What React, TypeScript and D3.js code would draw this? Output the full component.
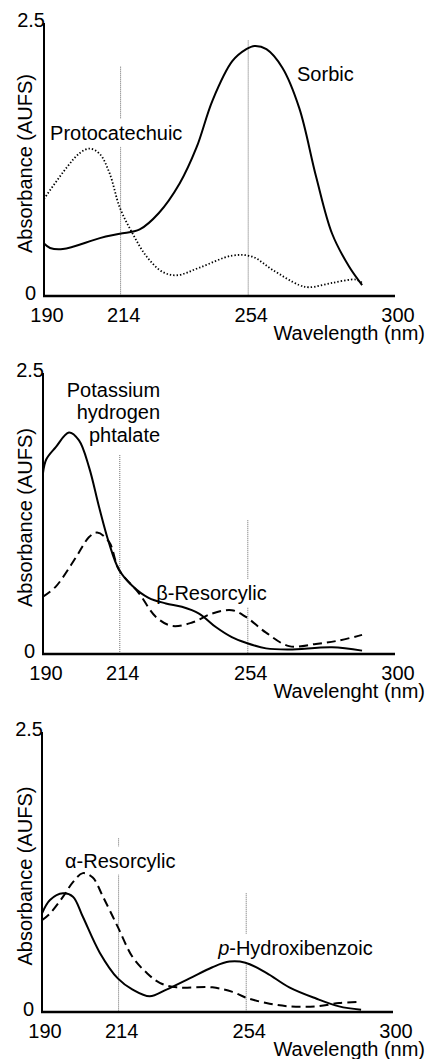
import React, { useEffect, useRef } from 'react';
import * as d3 from 'd3';

// ---------- data ----------
const xTicks = [190, 214, 254, 300];
const yTicks = [0, 2.5];

// Panel 1
const sorbicNm = [190, 191.9, 195.9, 207.5, 213.75, 220, 226, 232.5, 237.8, 242.8, 249, 253.4, 256, 259.7, 264.7, 270, 275.3, 280.3, 285.6, 289.7];
const sorbicAbs = [0.48, 0.44, 0.43, 0.53, 0.57, 0.61, 0.76, 1.03, 1.36, 1.79, 2.15, 2.26, 2.29, 2.26, 2.09, 1.72, 1.09, 0.57, 0.27, 0.10];
const protoNm = [190, 197.2, 201.25, 204.4, 207.5, 210.6, 213.75, 217.8, 222.2, 227.2, 231.6, 238.75, 249, 255.3, 261.6, 270, 273.1, 280.3, 287.8, 289.7];
const protoAbs = [0.89, 1.18, 1.31, 1.35, 1.30, 1.12, 0.81, 0.57, 0.36, 0.22, 0.19, 0.26, 0.37, 0.36, 0.24, 0.10, 0.08, 0.12, 0.15, 0.12];

// Panel 2
const khpNm = [190, 191, 194, 198.1, 201.25, 204.4, 207.5, 210.6, 213.75, 217.8, 223, 228.4, 233.4, 238.75, 244, 249, 253.4, 259.7, 266.9, 280.3, 289.7];
const khpAbs = [1.61, 1.73, 1.84, 1.97, 1.90, 1.66, 1.31, 0.99, 0.75, 0.61, 0.50, 0.45, 0.42, 0.36, 0.24, 0.15, 0.10, 0.05, 0.04, 0.06, 0.03];
const betaNm = [190, 194, 200.3, 204.4, 206.9, 210.6, 213.75, 220, 225.3, 230.3, 236.6, 242.8, 249, 253.4, 259.7, 266.9, 275.3, 282.5, 289.7];
const betaAbs = [0.51, 0.60, 0.86, 1.04, 1.08, 1.00, 0.75, 0.54, 0.33, 0.25, 0.28, 0.36, 0.39, 0.33, 0.19, 0.07, 0.09, 0.12, 0.17];

// Panel 3
const phbNm = [190, 192.5, 196.6, 199.7, 202.8, 208.1, 213.75, 218.4, 223.75, 229, 236.25, 243.4, 248.75, 253.75, 260.3, 267.5, 275.9, 283.1, 290];
const phbAbs = [0.88, 1.0, 1.06, 1.03, 0.85, 0.53, 0.30, 0.20, 0.14, 0.20, 0.30, 0.40, 0.45, 0.44, 0.35, 0.22, 0.12, 0.05, 0.02];
const alphaNm = [190, 192.5, 196.6, 199.7, 202.8, 205.9, 209.1, 213.75, 218.4, 222.8, 226.9, 232.2, 243.4, 249.7, 253.75, 260.3, 267.5, 275.9, 283.1, 289.4];
const alphaAbs = [0.82, 0.88, 1.03, 1.16, 1.24, 1.20, 1.03, 0.76, 0.49, 0.35, 0.26, 0.22, 0.22, 0.18, 0.13, 0.08, 0.05, 0.05, 0.08, 0.09];

type Style = 'solid' | 'dotted' | 'dashed';
type Series = { nm: number[]; abs: number[]; style: Style };
type Label = { lines: string[]; nm: number; abs: number; anchor: string; italicFirst?: boolean };
type Panel = {
  left: number; right: number; top: number; bottom: number;
  grid: { nm: number; top: number }[];
  series: Series[];
  labels: Label[];
  xTitle: string;
};

const panels: Panel[] = [
  {
    left: 44, right: 395, top: 23, bottom: 296,
    grid: [{ nm: 214, top: 2.1 }, { nm: 254, top: 2.34 }],
    series: [
      { nm: protoNm, abs: protoAbs, style: 'dotted' },
      { nm: sorbicNm, abs: sorbicAbs, style: 'solid' },
    ],
    labels: [
      { lines: ['Protocatechuic'], nm: 191.9, abs: 1.43, anchor: 'start' },
      { lines: ['Sorbic'], nm: 269.3, abs: 1.97, anchor: 'start' },
    ],
    xTitle: 'Wavelength (nm)',
  },
  {
    left: 43, right: 395, top: 373, bottom: 654,
    grid: [{ nm: 214, top: 1.77 }, { nm: 254, top: 1.19 }],
    series: [
      { nm: betaNm, abs: betaAbs, style: 'dashed' },
      { nm: khpNm, abs: khpAbs, style: 'solid' },
    ],
    labels: [
      { lines: ['Potassium', 'hydrogen', 'phtalate'], nm: 226.6, abs: 2.29, anchor: 'end' },
      { lines: ['\u03B2-Resorcylic'], nm: 225.4, abs: 0.48, anchor: 'start' },
    ],
    xTitle: 'Wavelenght (nm)',
  },
  {
    left: 42, right: 393, top: 732, bottom: 1012,
    grid: [{ nm: 214, top: 1.55 }, { nm: 254, top: 1.06 }],
    series: [
      { nm: alphaNm, abs: alphaAbs, style: 'dashed' },
      { nm: phbNm, abs: phbAbs, style: 'solid' },
    ],
    labels: [
      { lines: ['\u03B1-Resorcylic'], nm: 197.2, abs: 1.29, anchor: 'start' },
      { lines: ['p', '-Hydroxibenzoic'], nm: 245.2, abs: 0.51, anchor: 'start', italicFirst: true },
    ],
    xTitle: 'Wavelength (nm)',
  },
];

const FONT = "'Liberation Sans', Arial, Helvetica, sans-serif";

export default function App() {
  const ref = useRef<SVGSVGElement | null>(null);

  useEffect(() => {
    document.body.style.margin = '0';
    const svg = d3.select(ref.current);
    svg.selectAll('*').remove();

    panels.forEach((p) => {
      const g = svg.append('g');
      const x = d3.scaleLinear().domain([190, 300]).range([p.left, p.right]);
      const y = d3.scaleLinear().domain([0, 2.5]).range([p.bottom, p.top]);

      // gridlines
      p.grid.forEach((gl) => {
        g.append('line')
          .attr('x1', x(gl.nm)).attr('x2', x(gl.nm))
          .attr('y1', y(gl.top)).attr('y2', y(0))
          .attr('stroke', '#6a6a6a').attr('stroke-width', 1)
          .attr('stroke-dasharray', '1,1');
      });

      // labels with white background
      p.labels.forEach((lb) => {
        const lg = g.append('g');
        const rect = lg.append('rect').attr('fill', '#fff');
        const t = lg.append('text')
          .attr('font-family', FONT).attr('font-size', 20).attr('fill', '#000')
          .attr('text-anchor', lb.anchor);
        if (lb.italicFirst) {
          t.attr('x', x(lb.nm)).attr('y', y(lb.abs));
          t.append('tspan').attr('font-style', 'italic').text(lb.lines[0]);
          t.append('tspan').text(lb.lines[1]);
        } else {
          lb.lines.forEach((ln, i) => {
            t.append('tspan').attr('x', x(lb.nm)).attr('y', y(lb.abs) + i * 22.5).text(ln);
          });
        }
        const node = t.node() as SVGTextElement;
        const bb = node.getBBox();
        rect.attr('x', bb.x - 3).attr('y', bb.y - 3)
          .attr('width', bb.width + 6).attr('height', bb.height + 6);
      });

      // curves
      p.series.forEach((s) => {
        const pts: [number, number][] = s.nm.map((n, i) => [n, s.abs[i]]);
        const line = d3.line<[number, number]>()
          .x((d) => x(d[0])).y((d) => y(d[1]))
          .curve(d3.curveCatmullRom.alpha(0.5));
        const path = g.append('path').attr('d', line(pts) as string)
          .attr('fill', 'none').attr('stroke', '#000')
          .attr('stroke-linejoin', 'round');
        if (s.style === 'solid') path.attr('stroke-width', 2);
        if (s.style === 'dotted') path.attr('stroke-width', 1.8).attr('stroke-dasharray', '1.4,2');
        if (s.style === 'dashed') path.attr('stroke-width', 2).attr('stroke-dasharray', '9,5');
      });

      // axes
      g.append('line').attr('x1', p.left).attr('x2', p.left)
        .attr('y1', p.top).attr('y2', p.bottom + 1)
        .attr('stroke', '#000').attr('stroke-width', 2);
      g.append('line').attr('x1', p.left - 1).attr('x2', p.right)
        .attr('y1', p.bottom).attr('y2', p.bottom)
        .attr('stroke', '#000').attr('stroke-width', 2.5);

      // x tick labels
      xTicks.forEach((t) => {
        g.append('text').attr('x', x(t) + 3).attr('y', p.bottom + 26)
          .attr('text-anchor', 'middle').attr('font-family', FONT).attr('font-size', 20)
          .text(String(t));
      });
      // y tick labels
      yTicks.forEach((t) => {
        g.append('text')
          .attr('x', t === 0 ? p.left - 8 : p.left + 1)
          .attr('y', y(t) + (t === 0 ? 4 : 4))
          .attr('text-anchor', 'end').attr('font-family', FONT).attr('font-size', 20)
          .text(String(t));
      });

      // axis titles
      g.append('text').attr('x', 425).attr('y', p.bottom + 44)
        .attr('text-anchor', 'end').attr('font-family', FONT).attr('font-size', 20)
        .text(p.xTitle);
      const cy = (p.top + p.bottom) / 2 + 4;
      g.append('text').attr('transform', `translate(32,${cy}) rotate(-90)`)
        .attr('text-anchor', 'middle').attr('font-family', FONT).attr('font-size', 20)
        .text('Absorbance (AUFS)');
    });
  }, []);

  return (
    <svg ref={ref} width={428} height={1059} style={{ display: 'block', background: '#fff' }} />
  );
}
